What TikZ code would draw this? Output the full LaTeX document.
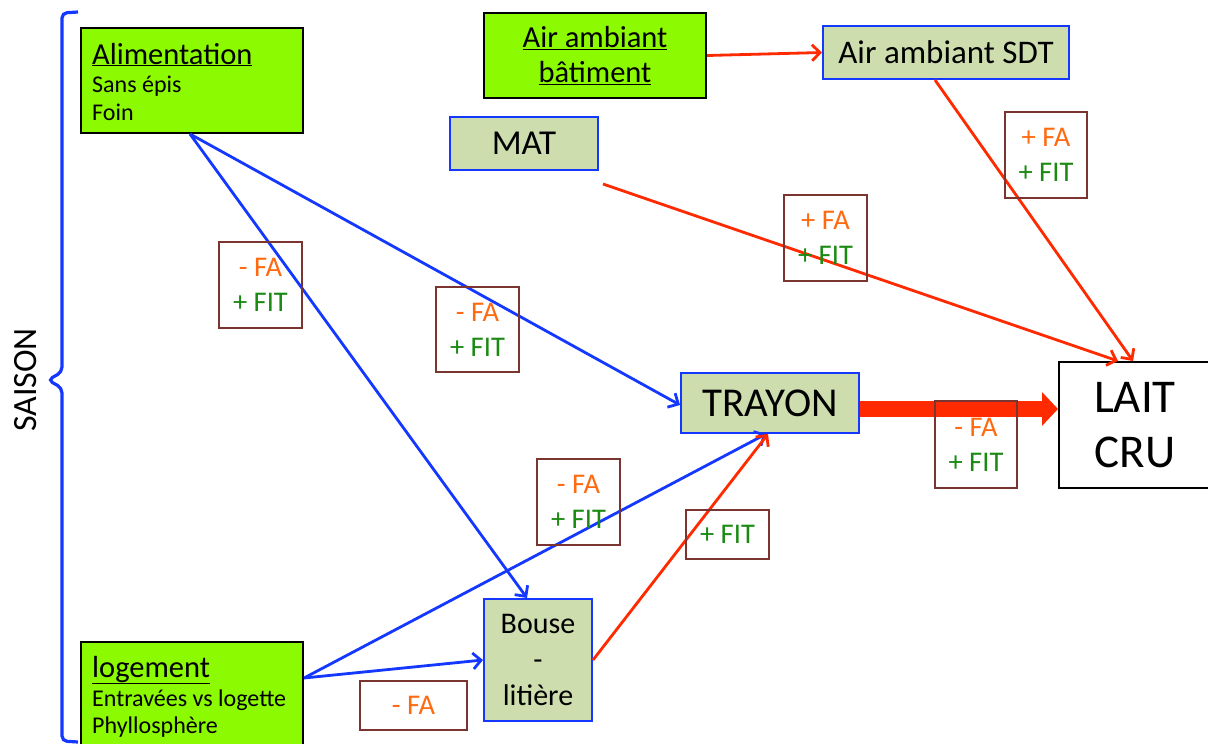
\documentclass[tikz,border=0pt]{standalone}
\usepackage{fontspec}
\setmainfont{Carlito}
\usetikzlibrary{arrows.meta}
\definecolor{boxgreen}{HTML}{8CFA00}
\definecolor{olivebox}{HTML}{CEDDAE}
\definecolor{bblue}{HTML}{1438FF}
\definecolor{rred}{HTML}{FF2A00}
\definecolor{brownb}{HTML}{7A3530}
\definecolor{faorange}{HTML}{FF6A10}
\definecolor{fitgreen}{HTML}{1A8A12}
\newcommand{\fa}[1]{{\color{faorange}#1}}
\newcommand{\fit}[1]{{\color{fitgreen}#1}}
\begin{document}
\begin{tikzpicture}[x=1pt,y=-1pt,
  greenbox/.style={draw=black, line width=2pt, fill=boxgreen, anchor=north west, inner sep=0pt},
  olive/.style={draw=bblue, line width=2pt, fill=olivebox, anchor=north west, inner sep=0pt, align=center, font=\fontsize{33}{38}\selectfont},
  lbl/.style={draw=brownb, line width=2pt, anchor=north west, inner sep=0pt, align=center, font=\fontsize{28.5}{35}\selectfont},
  title/.style={anchor=base west, inner sep=0pt, font=\fontsize{30.5}{34}\selectfont},
  sub/.style={anchor=base west, inner sep=0pt, font=\fontsize{24}{28}\selectfont},
  barrow/.style={draw=bblue, line width=2.8pt, -{Straight Barb[length=8pt,width=16pt,line width=2.8pt]}},
  rarrow/.style={draw=rred, line width=2.8pt, -{Straight Barb[length=8pt,width=16pt,line width=2.8pt]}}
]
\clip (0,0) rectangle (1208,744);
\fill[white] (0,0) rectangle (1208,744);

% brace and SAISON
\draw[bblue, line width=3.2pt, rounded corners=5pt] (78,12) -- (62,13) -- (62,372) -- (48,380) -- (62,388) -- (62,741) -- (78,742);
\node[rotate=90, font=\fontsize{34}{40}\selectfont] (saison) at (26,380) {SAISON};

% nodes
\node[greenbox, minimum width=222pt, minimum height=105pt] (alim) at (80,27) {};
\node[title] (alimt) at (92,64) {\underline{Alimentation}};
\node[sub] (alim1) at (92,92) {Sans épis};
\node[sub] (alim2) at (92,120) {Foin};

\node[greenbox, minimum width=222pt, minimum height=85pt, align=center, font=\fontsize{30.5}{35}\selectfont] (bat) at (483,12)
  {\underline{Air ambiant}\\ \underline{bâtiment}};
\node[olive, minimum width=246pt, minimum height=53pt] (sdt) at (822,25) {Air ambiant SDT};
\node[olive, minimum width=148pt, minimum height=53pt, font=\fontsize{35}{40}\selectfont] (mat) at (449,116) {MAT};
\node[olive, minimum width=178pt, minimum height=60pt, font=\fontsize{41}{46}\selectfont] (tray) at (680,372) {TRAYON};
\node[draw=black, line width=2pt, fill=white, anchor=north west, inner sep=0pt, minimum width=152pt, minimum height=126pt, align=center, font=\fontsize{47}{55}\selectfont] (lait) at (1058,361) {LAIT\\CRU};
\node[olive, minimum width=108pt, minimum height=122pt, font=\fontsize{30}{36}\selectfont] (bouse) at (483,598) {Bouse\\-\\litière};

\node[greenbox, minimum width=222pt, minimum height=124pt] (loge) at (80,641) {};
\node[title] (loget) at (92,677) {\underline{logement}};
\node[sub] (loge1) at (92,706) {Entravées vs logette};
\node[sub] (loge2) at (92,733) {Phyllosphère};

\coordinate (matout) at (603,184);

% connectors
\draw[barrow] ([xshift=110pt]alim.south west) -- ([yshift=-2pt]tray.west);
\draw[barrow] ([xshift=110pt]alim.south west) -- ([xshift=44pt]bouse.north west);
\draw[barrow] ([yshift=-37pt]loge.north east) -- ([xshift=86pt]tray.south west);
\draw[barrow] ([yshift=-37pt]loge.north east) -- (bouse.west);
\draw[rarrow] (bouse.east) -- ([xshift=88pt]tray.south west);
\draw[rarrow] (bat.east) -- (sdt.west);
\draw[rarrow] ([xshift=113pt]sdt.south west) -- ([xshift=75pt]lait.north west);
\draw[rarrow] (matout) -- ([xshift=60pt]lait.north west);
\draw[rred, line width=16pt, -{Triangle[length=16pt,width=33pt]}] ([yshift=-6pt]tray.east) -- ([yshift=-6pt]tray.east -| lait.west);

% labels
\node[lbl, minimum width=83pt, minimum height=86pt] (l1) at (218,241) {\fa{- FA}\\\fit{+ FIT}};
\node[lbl, minimum width=83pt, minimum height=85pt] (l2) at (435,286) {\fa{- FA}\\\fit{+ FIT}};
\node[lbl, minimum width=83pt, minimum height=86pt] (l3) at (783,194) {\fa{+ FA}\\\fit{+ FIT}};
\node[lbl, minimum width=82pt, minimum height=86pt] (l4) at (1004,111) {\fa{+ FA}\\\fit{+ FIT}};
\node[lbl, minimum width=82pt, minimum height=87pt] (l5) at (934,400) {\fa{- FA}\\\fit{+ FIT}};
\node[lbl, minimum width=83pt, minimum height=86pt] (l6) at (536,458) {\fa{- FA}\\\fit{+ FIT}};
\node[lbl, minimum width=83pt, minimum height=49pt] (l7) at (685,509) {\fit{+ FIT}};
\node[lbl, minimum width=107pt, minimum height=49pt] (l8) at (359,680) {\fa{- FA}};
\end{tikzpicture}
\end{document}
